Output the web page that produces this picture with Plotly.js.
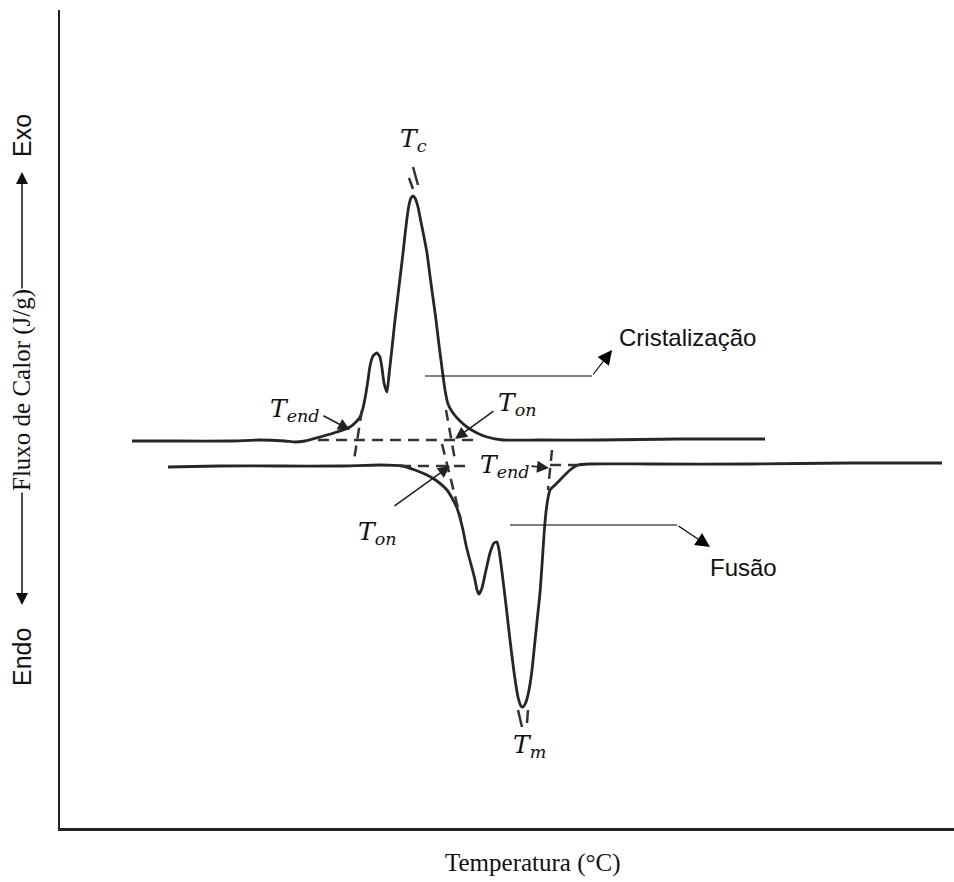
<!DOCTYPE html>
<html><head><meta charset="utf-8">
<script src="https://cdn.plot.ly/plotly-3.0.1.min.js"></script>
<style>html,body{margin:0;padding:0;background:#fff}</style>
</head><body><div id="chart" style="width:954px;height:882px"></div>
<script>
// Schematic DSC curve (arbitrary units: temperature -> x, heat flow -> y, exo up)
const cristTemp = [132,180,230,260,285,295,305,320,337,350,356,360,363,366,368,370,373,377,380,382,384,387,389,392,395,398,401,403,405,407,409,411,413,415,418,421,424,427,430,433,436,439,442,445,448,453,460,467,477,487,503,540,600,680,765];
const cristFlux = [-441,-441,-441,-440,-441,-442,-441,-437,-432,-427,-422,-417,-408,-393,-380,-366,-356,-353,-357,-368,-383,-392,-375,-348,-320,-295,-270,-253,-235,-218,-205,-198,-196,-198,-207,-222,-237,-253,-276,-298,-320,-345,-368,-390,-404,-413,-421,-427,-433,-437,-440,-440,-440,-439,-439];

const fusaoTemp = [168,220,280,340,380,403,415,427,437,447,452,457,460,463,466,469,472,475,477,479,482,486,490,494,497,499,502,506,510,514,518,521,523,526,529,532,535,538,540,542,544,546,548,550,555,560,570,578,590,650,750,850,942];
const fusaoFlux = [-467,-466,-466,-466,-465,-466,-470,-475,-481,-490,-498,-508,-518,-530,-545,-557,-568,-580,-590,-594,-588,-570,-553,-543,-542,-550,-572,-605,-640,-672,-697,-706,-707,-702,-690,-670,-641,-612,-593,-565,-535,-512,-498,-490,-485,-480,-470,-465,-464,-464,-464,-463,-463];

// Tangent / baseline extrapolations (dashed), segments separated by null
const tangentTemp = [318,480,null,362,354,null,446,455,null,442,461,null,400,470,null,552,548,null,550,582];
const tangentFlux = [-440,-440,null,-410,-460,null,-410,-460,null,-444,-520,null,-466,-466,null,-450,-490,null,-465,-465];

// Peak extrapolation marks (Tc, Tm)
const peakMarkTemp = [413,418,null,409,413,null,518,522,null,528,527];
const peakMarkFlux = [-167,-185,null,-178,-189,null,-710,-727,null,-710,-723];

// Pointer lines for the labels
const pointerTemp = [425,592,null,510,677];
const pointerFlux = [-376,-376,null,-525,-525];

const curveColor = '#262626';
const traces = [
  {x: cristTemp, y: cristFlux, mode:'lines', line:{color:curveColor, width:2.8, shape:'spline', smoothing:0.5}, hoverinfo:'skip'},
  {x: fusaoTemp, y: fusaoFlux, mode:'lines', line:{color:curveColor, width:2.8, shape:'spline', smoothing:0.5}, hoverinfo:'skip'},
  {x: tangentTemp, y: tangentFlux, mode:'lines', connectgaps:false, line:{color:'#333', width:2.5, dash:'11px,7px'}, hoverinfo:'skip'},
  {x: peakMarkTemp, y: peakMarkFlux, mode:'lines', connectgaps:false, line:{color:'#333', width:2.5}, hoverinfo:'skip'},
  {x: pointerTemp, y: pointerFlux, mode:'lines', connectgaps:false, line:{color:'#000', width:1.1}, hoverinfo:'skip'}
];

// plot area geometry (for text placed outside the plotting area)
const L = 60, R = 0, T = 10, B = 54, W = 954, H = 882;
const px = v => (v - L) / (W - L - R);
const py = v => (H - B - v) / (H - T - B);

const mathFont = {family:'DejaVu Serif', size:25, color:'#111', style:'italic'};
const sansFont = {family:'Liberation Sans, Arial, sans-serif', size:24, color:'#111'};
const serifFont = {family:'Liberation Serif, Times New Roman, serif', size:25, color:'#111'};
const sideFont = {family:'Liberation Sans, Arial, sans-serif', size:25, color:'#111'};

function label(x, y, text, font, extra){
  return Object.assign({x:x, y:y, xref:'x', yref:'y', text:text, showarrow:false, font:font, xanchor:'center', yanchor:'middle'}, extra||{});
}
function plabel(x, y, text, font, extra){
  return Object.assign({x:px(x), y:py(y), xref:'paper', yref:'paper', text:text, showarrow:false, font:font, xanchor:'center', yanchor:'middle'}, extra||{});
}
function arrow(x0, y0, x1, y1, w, size, col){
  return {x:x1, y:y1, ax:x0, ay:y0, xref:'x', yref:'y', axref:'x', ayref:'y', text:'', showarrow:true,
          arrowhead:2, arrowsize:size, arrowwidth:w, arrowcolor:col||'#222', standoff:0, startstandoff:0};
}
function parrow(x, y0, y1, w, size){
  return {x:px(x), y:py(y1), xref:'paper', yref:'paper', axref:'pixel', ayref:'pixel', ax:0, ay:(y0 - y1), text:'', showarrow:true,
          arrowhead:2, arrowsize:size, arrowwidth:w, arrowcolor:'#111', standoff:0, startstandoff:0};
}

const annotations = [
  label(413, -140, 'T<sub>c</sub>', mathFont),
  label(295, -410, 'T<sub>end</sub>', mathFont),
  label(517, -404, 'T<sub>on</sub>', mathFont),
  label(505, -466, 'T<sub>end</sub>', mathFont),
  label(377, -533, 'T<sub>on</sub>', mathFont),
  label(529, -746, 'T<sub>m</sub>', mathFont),
  arrow(322, -415, 350, -430, 1.6, 1.5),
  arrow(495, -410, 455, -439, 1.6, 1.5),
  arrow(530, -466, 549, -468, 1.6, 1.5),
  arrow(393, -507, 450, -466, 1.6, 1.5),
  arrow(592, -376, 612, -350, 1.1, 2.6, '#000'),
  arrow(677, -525, 710, -547, 1.1, 2.6, '#000'),
  label(687, -337, 'Cristalização', sansFont),
  label(743, -567, 'Fusão', sansFont),
  plabel(533, 863, 'Temperatura (°C)', serifFont),
  // Y axis label assembly
  plabel(22, 136, 'Exo', sideFont, {textangle:-90}),
  parrow(22, 290, 172, 1.5, 1.6),
  plabel(22, 390, 'Fluxo de Calor (J/g)', serifFont, {textangle:-90}),
  parrow(22, 491, 605, 1.5, 1.6),
  plabel(22, 657, 'Endo', sideFont, {textangle:-90})
];

const layout = {
  width:W, height:H,
  margin:{l:L, r:R, t:T, b:B, pad:0},
  paper_bgcolor:'#fff', plot_bgcolor:'#fff',
  showlegend:false,
  xaxis:{range:[60,954], showgrid:false, zeroline:false, showticklabels:false, ticks:'', showline:true, linecolor:'#222', linewidth:3, fixedrange:true},
  yaxis:{range:[-828,-10], showgrid:false, zeroline:false, showticklabels:false, ticks:'', showline:true, linecolor:'#222', linewidth:2.5, fixedrange:true},
  annotations: annotations
};

Plotly.newPlot('chart', traces, layout, {displayModeBar:false, staticPlot:true});
</script>
</body></html>
